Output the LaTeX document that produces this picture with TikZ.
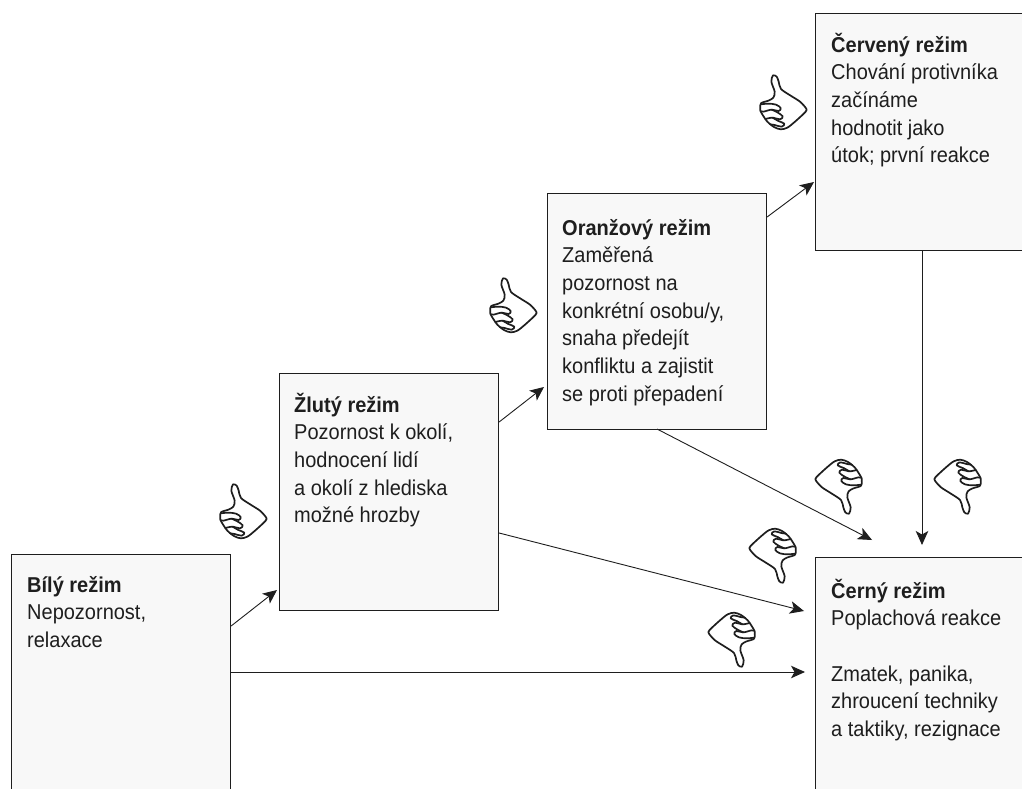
\documentclass[tikz,border=0pt]{standalone}
\usepackage{fontspec}
\setmainfont[FakeStretch=0.93]{Liberation Sans}
\usetikzlibrary{arrows.meta}
\definecolor{ink}{HTML}{1E1E1E}
\definecolor{paper}{HTML}{F8F8F8}
\tikzset{
  modebox/.style={draw=ink,line width=1.1pt,fill=paper,inner sep=0pt,anchor=north west},
  modetext/.style={inner sep=0pt,anchor=north west,align=left,text=ink,font=\fontsize{21.5}{27.7}\selectfont},
  flow/.style={draw=ink,line width=.9pt,-{Stealth[length=14pt,width=12.5pt,inset=3.5pt]}},
  thumb/.pic={
    \begin{scope}[scale=1/3,shift={(-99,-123)},line width=1.7pt,draw=ink,line join=round,line cap=round]
      \draw[fill=white] plot[smooth cycle,tension=.5] coordinates {
        (69,43)(80,47)(86,62)(93,84)(122,104)(150,122)(168,142)(167,152)(135,182)(112,200)(92,205)(72,198)(52,182)(40,165)(31,148)(33,127)(55,119)(70,110)(74,92)(64,62)};
      \draw plot[smooth,tension=.6] coordinates {(33,130)(55,128)(78,131)(92,141)(86,150)(65,146)(40,152)(31,150)};
      \draw plot[smooth,tension=.6] coordinates {(65,146)(82,154)(98,166)(90,175)(68,170)(46,174)};
      \draw plot[smooth,tension=.6] coordinates {(68,170)(85,180)(103,188)(95,197)(74,192)(60,190)};
    \end{scope}
  }
}
\begin{document}
\begin{tikzpicture}[x=1pt,y=-1pt]
\useasboundingbox[fill=white] (0,0) rectangle (1022,789);
\begin{scope}
\clip (0,0) rectangle (1022,789);
\node[modebox,minimum width=219pt,minimum height=245pt] (bily) at (11,554) {};
\node[modebox,minimum width=219pt,minimum height=237pt] (zluty) at (279,373) {};
\node[modebox,minimum width=219pt,minimum height=236pt] (oranz) at (547,193) {};
\node[modebox,minimum width=217pt,minimum height=237pt] (cerv) at (815,13) {};
\node[modebox,minimum width=217pt,minimum height=242pt] (cerny) at (815,557) {};
\end{scope}
\node[modetext] (tb) at (27,572.6) {\strut\textbf{Bílý režim}\\Nepozornost,\\relaxace};
\node[modetext] (tz) at (294,392.6) {\strut\textbf{Žlutý režim}\\Pozornost k okolí,\\hodnocení lidí\\a okolí z hlediska\\možné hrozby};
\node[modetext] (to) at (562,215.6) {\strut\textbf{Oranžový režim}\\Zaměřená\\pozornost na\\konkrétní osobu/y,\\snaha předejít\\konfliktu a zajistit\\se proti přepadení};
\node[modetext] (tc) at (831,32.6) {\strut\textbf{Červený režim}\\Chování protivníka\\začínáme\\hodnotit jako\\útok; první reakce};
\node[modetext] (tn) at (831,578.6) {\strut\textbf{Černý režim}\\Poplachová reakce\\[27.7pt]Zmatek, panika,\\zhroucení techniky\\a taktiky, rezignace};
% connector ends
\coordinate (bz) at (bily.north east |- 0,626);
\coordinate (zb) at (277,590);
\coordinate (bc) at (bily.north east |- 0,672);
\coordinate (cb) at (805,672);
\coordinate (zo) at (zluty.north east |- 0,422);
\coordinate (oz) at (544,387);
\coordinate (zc) at (zluty.north east |- 0,533);
\coordinate (cz) at (804,611);
\coordinate (oc) at (oranz.north east |- 0,217);
\coordinate (co) at (814,182);
\coordinate (on) at (657,429);
\coordinate (no) at (872,540);
\coordinate (cn) at (922,250);
\coordinate (nc) at (922,545);
\draw[flow] (bz) -- (zb);
\draw[flow] (bc) -- (cb);
\draw[flow] (zo) -- (oz);
\draw[flow] (zc) -- (cz);
\draw[flow] (oc) -- (co);
\draw[flow] (on) -- (no);
\draw[flow] (cn) -- (nc);
% thumbs
\pic at (243,511) {thumb};
\pic at (513,305) {thumb};
\pic at (783,102) {thumb};
\pic[rotate=180] at (839,487) {thumb};
\pic[rotate=180] at (958,487) {thumb};
\pic[rotate=180] at (773,556) {thumb};
\pic[rotate=180] at (732,640) {thumb};
\end{tikzpicture}
\end{document}
